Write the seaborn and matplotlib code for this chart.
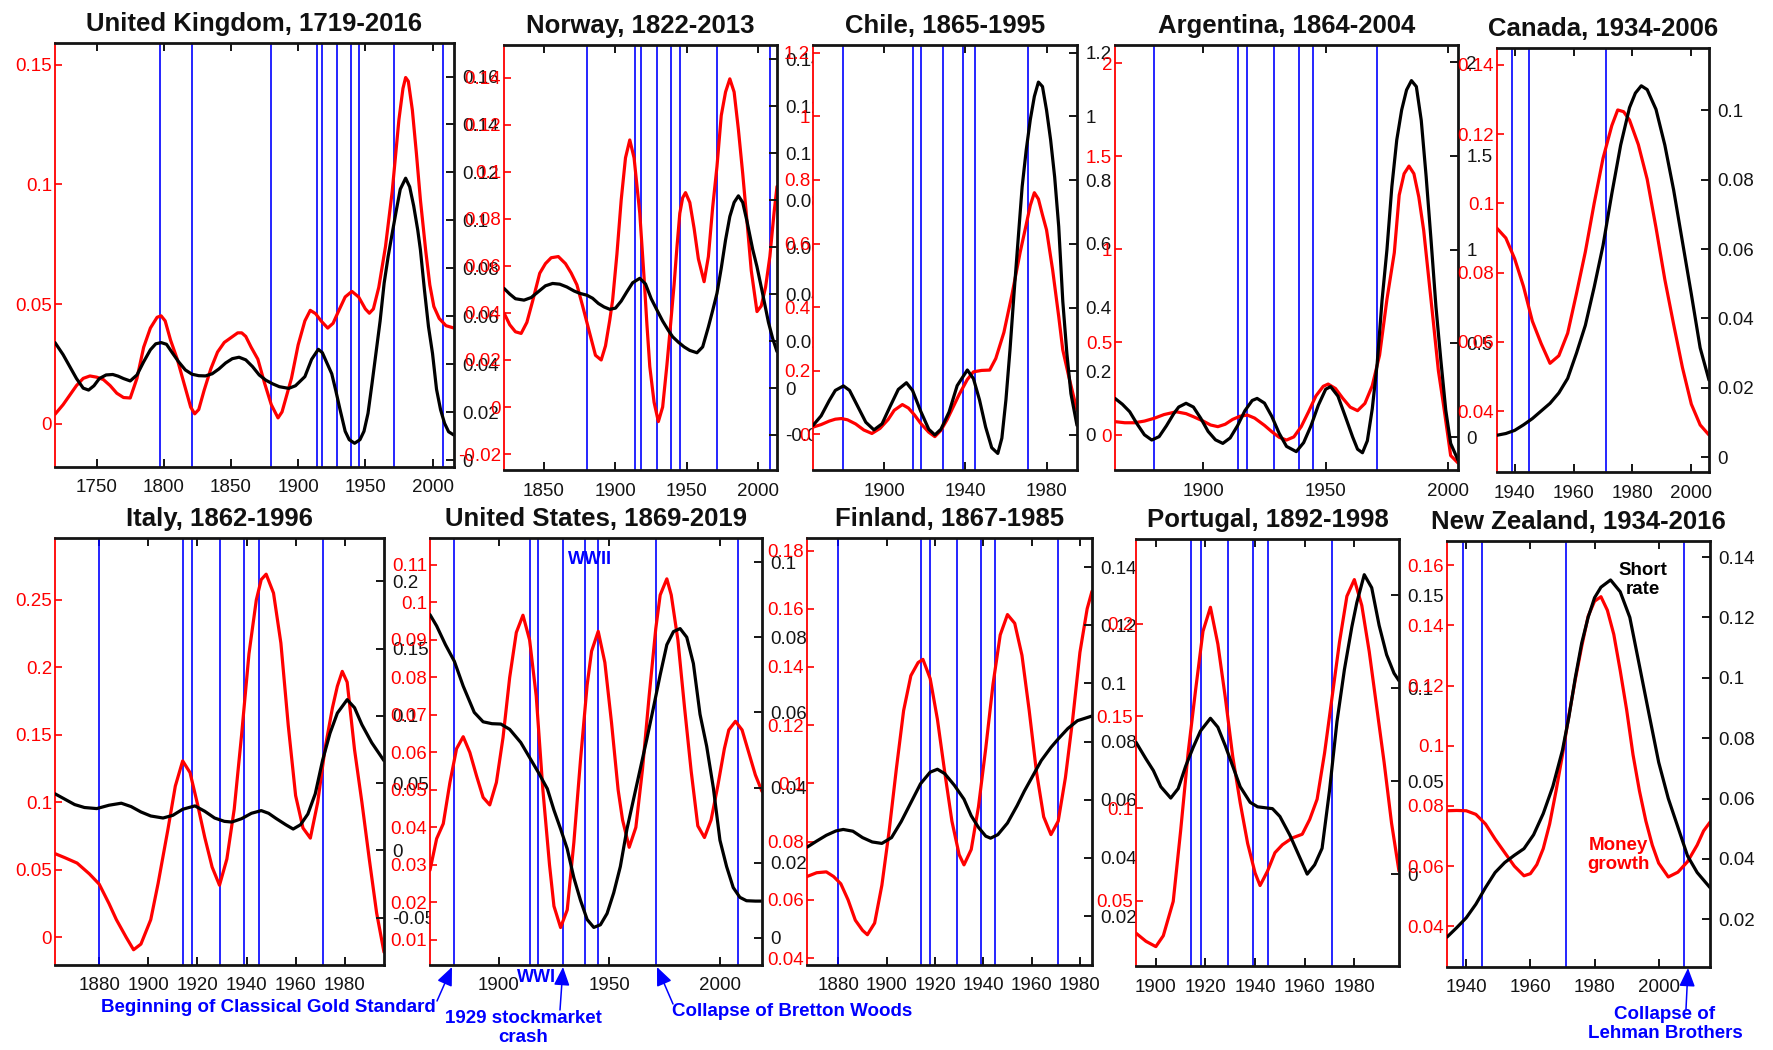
import matplotlib
matplotlib.use("Agg")
import matplotlib.pyplot as plt
from matplotlib.ticker import FixedLocator, FuncFormatter
import seaborn as sns

sns.set_theme(style="white")
plt.rcParams["font.family"] = ["Liberation Sans", "DejaVu Sans"]
plt.rcParams["axes.unicode_minus"] = False

# ---------------------------------------------------------------------------
# Low-frequency components, as (year, value) pairs: money growth (red, left
# axis) and short rate (black, right axis), by country.
# ---------------------------------------------------------------------------
uk_money = [(1719, .004), (1725, .008), (1730, .012), (1735, .016), (1740, .019),
            (1745, .020), (1750, .0195), (1755, .0185), (1760, .016), (1765, .0128),
            (1770, .011), (1775, .0108), (1780, .019), (1785, .032), (1790, .040),
            (1795, .0445), (1798, .0451), (1801, .043), (1805, .035), (1810, .027),
            (1815, .017), (1820, .007), (1823, .0042), (1826, .006), (1830, .014),
            (1835, .023), (1840, .030), (1845, .034), (1850, .036), (1855, .038),
            (1858, .038), (1861, .0365), (1865, .032), (1870, .027), (1875, .017),
            (1880, .008), (1885, .0025), (1888, .005), (1891, .011), (1895, .019),
            (1900, .033), (1905, .043), (1909, .0474), (1913, .046), (1917, .043),
            (1922, .040), (1926, .042), (1930, .047), (1935, .053), (1940, .0553),
            (1945, .053), (1950, .048), (1953, .0462), (1956, .048), (1960, .057),
            (1965, .074), (1970, .097), (1975, .127), (1978, .140), (1980, .1446),
            (1982, .143), (1985, .131), (1988, .113), (1991, .0935), (1995, .072),
            (1998, .058), (2001, .049), (2005, .044), (2010, .041), (2016, .040)]
uk_rate = [(1719, .049), (1725, .044), (1730, .039), (1735, .034), (1740, .030),
           (1744, .0292), (1748, .031), (1752, .034), (1757, .0355), (1762, .0357),
           (1766, .035), (1770, .034), (1775, .033), (1780, .0355), (1785, .041),
           (1790, .046), (1794, .0485), (1798, .049), (1802, .0483), (1806, .045),
           (1811, .041), (1816, .0376), (1821, .0358), (1826, .0352), (1831, .0351),
           (1836, .036), (1841, .038), (1846, .0405), (1851, .0423), (1856, .0429),
           (1861, .0418), (1866, .039), (1871, .0355), (1876, .0333), (1881, .0318),
           (1886, .0306), (1893, .0299), (1898, .031), (1905, .0348), (1910, .042),
           (1915, .0462), (1918, .0448), (1921, .041), (1925, .036), (1928, .029),
           (1931, .0215), (1935, .012), (1938, .0085), (1942, .007), (1946, .0085),
           (1949, .012), (1952, .0195), (1955, .032), (1958, .045), (1961, .058),
           (1964, .0738), (1967, .085), (1970, .0946), (1973, .104), (1976, .113),
           (1980, .1176), (1983, .114), (1986, .106), (1989, .096), (1991, .0877),
           (1994, .071), (1997, .0557), (2000, .0445), (2003, .0295), (2006, .021),
           (2009, .0153), (2012, .0118), (2016, .0104)]

norway_money = [(1822, .040), (1826, .035), (1830, .032), (1834, .0313), (1838, .036),
                (1842, .045), (1847, .0569), (1851, .061), (1855, .0635), (1860, .064),
                (1865, .061), (1869, .057), (1873, .052), (1877, .043), (1882, .0313),
                (1886, .022), (1890, .020), (1893, .026), (1896, .037), (1898, .0455),
                (1901, .065), (1904, .0881), (1907, .106), (1910, .1136), (1913, .106),
                (1917, .0824), (1920, .055), (1922, .035), (1924, .0172), (1927, .002),
                (1930, -.0062), (1933, .000), (1936, .018), (1938, .0313), (1941, .052),
                (1943, .068), (1945, .0824), (1947, .089), (1949, .0912), (1952, .087),
                (1955, .076), (1958, .063), (1962, .0533), (1965, .064), (1968, .085),
                (1971, .1023), (1974, .124), (1977, .134), (1980, .1396), (1983, .134),
                (1986, .118), (1989, .0994), (1992, .079), (1995, .058), (1999, .0406),
                (2002, .043), (2005, .051), (2008, .064), (2011, .083), (2013, .0938)]
norway_rate = [(1822, .0424), (1826, .040), (1830, .038), (1836, .0374), (1841, .0385),
               (1846, .041), (1851, .0435), (1856, .0445), (1861, .0442), (1866, .043),
               (1871, .0413), (1875, .0403), (1880, .0395), (1884, .0382), (1888, .036),
               (1892, .0345), (1896, .0335), (1900, .034), (1904, .037), (1908, .041),
               (1912, .0448), (1917, .0467), (1921, .0443), (1925, .038), (1929, .0332),
               (1933, .0285), (1937, .0245), (1940, .0218), (1944, .0195), (1948, .0175),
               (1952, .016), (1957, .015), (1961, .0175), (1965, .026), (1968, .033),
               (1971, .0403), (1974, .051), (1977, .063), (1980, .073), (1983, .079),
               (1986, .0818), (1989, .079), (1992, .071), (1996, .059), (1999, .0516),
               (2003, .040), (2007, .028), (2010, .021), (2013, .0155)]

chile_money = [(1865, .022), (1869, .030), (1873, .041), (1876, .047), (1879, .049),
               (1882, .045), (1886, .032), (1890, .013), (1894, .002), (1898, .018),
               (1902, .046), (1905, .075), (1909, .093), (1912, .082), (1915, .060),
               (1918, .034), (1922, .006), (1925, -.008), (1928, .012), (1931, .045),
               (1934, .085), (1937, .125), (1941, .172), (1944, .196), (1948, .2005),
               (1952, .2016), (1955, .238), (1959, .320), (1963, .440), (1967, .572),
               (1970, .660), (1972, .720), (1974, .760), (1976, .740), (1978, .690),
               (1980, .643), (1983, .517), (1986, .370), (1988, .265), (1991, .180),
               (1995, .075)]
chile_rate = [(1865, .030), (1869, .060), (1873, .108), (1876, .140), (1880, .154),
              (1883, .140), (1887, .090), (1891, .040), (1895, .016), (1899, .035),
              (1903, .090), (1907, .143), (1911, .164), (1914, .140), (1918, .075),
              (1922, .018), (1925, .000), (1928, .018), (1932, .072), (1936, .155),
              (1941, .204), (1944, .177), (1947, .110), (1950, .025), (1953, -.040),
              (1956, -.058), (1958, -.010), (1960, .110), (1962, .267), (1964, .445),
              (1966, .613), (1968, .780), (1970, .895), (1972, .990), (1974, 1.063),
              (1976, 1.108), (1978, 1.094), (1980, 1.020), (1982, .927), (1984, .810),
              (1986, .654), (1988, .420), (1990, .257), (1992, .130), (1995, .030)]

argentina_money = [(1864, .072), (1868, .066), (1872, .066), (1876, .075), (1880, .090),
                   (1884, .110), (1889, .125), (1893, .115), (1896, .0986), (1900, .075),
                   (1903, .054), (1906, .045), (1909, .058), (1912, .084), (1915, .101),
                   (1918, .1075), (1921, .091), (1925, .052), (1928, .018), (1931, -.012),
                   (1934, -.027), (1937, -.010), (1940, .045), (1943, .125), (1946, .210),
                   (1949, .262), (1951, .274), (1954, .250), (1957, .197), (1960, .150),
                   (1963, .131), (1966, .170), (1969, .265), (1972, .430), (1975, .730),
                   (1978, .980), (1980, 1.290), (1982, 1.405), (1984, 1.446), (1986, 1.405),
                   (1988, 1.280), (1990, 1.100), (1992, .850), (1994, .600), (1996, .345),
                   (1998, .170), (2001, -.110), (2004, -.150)]
argentina_rate = [(1864, .206), (1867, .175), (1870, .135), (1873, .070), (1876, .012),
                  (1879, -.016), (1882, .002), (1885, .060), (1888, .125), (1890, .160),
                  (1893, .180), (1896, .160), (1899, .100), (1902, .030), (1905, -.015),
                  (1908, -.034), (1911, -.005), (1914, .060), (1917, .140), (1920, .195),
                  (1922, .206), (1925, .181), (1928, .110), (1931, .020), (1934, -.050),
                  (1938, -.078), (1941, -.030), (1944, .060), (1947, .170), (1950, .255),
                  (1952, .269), (1955, .218), (1958, .110), (1961, .000), (1963, -.065),
                  (1965, -.084), (1967, -.020), (1969, .150), (1971, .390), (1973, .730),
                  (1975, 1.000), (1977, 1.336), (1979, 1.585), (1981, 1.745), (1983, 1.852),
                  (1985, 1.902), (1987, 1.870), (1989, 1.690), (1991, 1.390), (1993, 1.050),
                  (1995, .696), (1997, .410), (1999, .144), (2001, -.034), (2004, -.123)]

canada_money = [(1934, .0928), (1937, .0900), (1940, .084), (1943, .076), (1946, .066),
                (1949, .0595), (1952, .0538), (1955, .0560), (1958, .0625), (1961, .074),
                (1964, .086), (1967, .100), (1970, .113), (1973, .1225), (1975, .127),
                (1977, .1265), (1979, .1241), (1982, .117), (1985, .1070), (1988, .093),
                (1991, .078), (1994, .065), (1997, .0525), (2000, .042), (2003, .0360),
                (2006, .0331)]
canada_rate = [(1934, .0063), (1937, .0068), (1940, .0077), (1943, .0093), (1946, .0111),
               (1949, .0133), (1952, .0155), (1955, .0185), (1958, .0227), (1961, .030),
               (1964, .038), (1967, .049), (1970, .061), (1973, .076), (1976, .090),
               (1979, .1008), (1981, .105), (1983, .1071), (1985, .106), (1988, .1003),
               (1991, .090), (1994, .077), (1997, .062), (2000, .047), (2003, .0315),
               (2006, .0222)]

italy_money = [(1862, .062), (1866, .059), (1871, .055), (1876, .047), (1880, .0394),
               (1884, .025), (1887, .0131), (1891, .000), (1894, -.0092), (1897, -.005),
               (1901, .0131), (1904, .040), (1908, .080), (1911, .112), (1914, .1307),
               (1917, .122), (1920, .099), (1923, .074), (1926, .052), (1929, .0386),
               (1932, .058), (1935, .095), (1938, .150), (1941, .210), (1944, .250),
               (1946, .265), (1948, .269), (1951, .255), (1954, .218), (1957, .157),
               (1960, .105), (1963, .081), (1966, .0735), (1969, .100), (1972, .140),
               (1975, .170), (1977, .186), (1979, .197), (1981, .189), (1984, .139),
               (1987, .100), (1990, .058), (1993, .018), (1996, -.011)]
italy_rate = [(1862, .042), (1866, .038), (1870, .034), (1874, .0318), (1879, .031),
              (1884, .0335), (1889, .035), (1893, .0325), (1897, .0285), (1901, .0255),
              (1906, .024), (1910, .026), (1914, .0305), (1919, .033), (1923, .029),
              (1927, .024), (1931, .0215), (1934, .021), (1938, .0235), (1942, .0275),
              (1946, .0295), (1949, .0275), (1952, .0237), (1956, .019), (1959, .0158),
              (1962, .019), (1965, .027), (1968, .042), (1971, .067), (1974, .087),
              (1977, .102), (1981, .112), (1984, .106), (1987, .0934), (1991, .080),
              (1996, .0666)]

us_money = [(1869, .0286), (1872, .037), (1875, .041), (1878, .052), (1881, .061),
            (1884, .0642), (1887, .060), (1890, .0538), (1893, .048), (1896, .046),
            (1899, .052), (1902, .064), (1905, .080), (1908, .092), (1911, .0966),
            (1914, .090), (1917, .075), (1920, .050), (1923, .030), (1925, .019),
            (1928, .0133), (1931, .018), (1934, .036), (1937, .058), (1940, .078),
            (1942, .087), (1945, .0923), (1948, .084), (1951, .068), (1954, .050),
            (1956, .042), (1959, .0347), (1962, .040), (1965, .0555), (1968, .075),
            (1971, .093), (1973, .102), (1976, .1063), (1978, .102), (1981, .090),
            (1984, .072), (1987, .055), (1990, .0404), (1993, .0373), (1996, .042),
            (1999, .051), (2002, .061), (2004, .066), (2007, .0683), (2010, .066),
            (2013, .060), (2016, .054), (2019, .0496)]
us_rate = [(1869, .086), (1872, .083), (1876, .078), (1880, .0736), (1884, .067),
           (1889, .060), (1893, .0575), (1897, .057), (1901, .0569), (1905, .0555),
           (1910, .052), (1914, .048), (1918, .044), (1922, .0397), (1925, .034),
           (1928, .029), (1931, .0237), (1934, .016), (1937, .010), (1940, .0049),
           (1943, .0028), (1946, .0035), (1949, .0065), (1952, .012), (1955, .019),
           (1958, .029), (1961, .037), (1964, .045), (1967, .053), (1970, .0614),
           (1973, .070), (1976, .078), (1979, .0815), (1982, .0823), (1985, .080),
           (1988, .073), (1991, .0595), (1994, .051), (1997, .040), (2000, .026),
           (2003, .019), (2006, .0134), (2009, .0108), (2012, .0099), (2016, .0098),
           (2019, .0098)]

finland_money = [(1867, .068), (1871, .0693), (1875, .0696), (1878, .068), (1881, .0655),
                 (1884, .060), (1887, .053), (1890, .0495), (1892, .048), (1895, .052),
                 (1898, .065), (1901, .0836), (1904, .105), (1907, .125), (1910, .137),
                 (1913, .1415), (1915, .1426), (1918, .136), (1921, .122), (1924, .104),
                 (1927, .087), (1930, .0755), (1932, .072), (1935, .0773), (1938, .092),
                 (1941, .112), (1944, .134), (1947, .151), (1950, .158), (1953, .155),
                 (1956, .144), (1959, .125), (1962, .104), (1965, .0885), (1968, .0824),
                 (1971, .087), (1974, .102), (1977, .122), (1980, .145), (1983, .160),
                 (1985, .166)]
finland_rate = [(1867, .0437), (1871, .0458), (1875, .0478), (1879, .0493), (1882, .0498),
                (1886, .0492), (1890, .047), (1894, .0455), (1898, .045), (1902, .047),
                (1906, .0525), (1910, .059), (1914, .0655), (1918, .0695), (1921, .0705),
                (1924, .069), (1928, .065), (1932, .0602), (1935, .0545), (1938, .0505),
                (1941, .0475), (1943, .0468), (1946, .048), (1950, .052), (1954, .058),
                (1957, .063), (1960, .0675), (1964, .0735), (1968, .078), (1971, .0809),
                (1975, .0845), (1979, .0872), (1982, .088), (1985, .0888)]

portugal_money = [(1892, .0324), (1896, .028), (1900, .0251), (1903, .031), (1907, .0496),
                  (1910, .088), (1913, .130), (1916, .164), (1919, .196), (1922, .209),
                  (1925, .189), (1928, .160), (1931, .128), (1934, .103), (1937, .081),
                  (1940, .065), (1942, .0582), (1945, .066), (1948, .076), (1951, .0803),
                  (1955, .084), (1959, .086), (1962, .094), (1965, .105), (1968, .130),
                  (1971, .160), (1974, .190), (1977, .215), (1980, .224), (1983, .210),
                  (1986, .185), (1989, .155), (1992, .125), (1995, .092), (1998, .066)]
portugal_rate = [(1892, .0709), (1896, .062), (1899, .0557), (1902, .047), (1906, .0409),
                 (1909, .046), (1912, .058), (1915, .068), (1918, .077), (1922, .0838),
                 (1925, .079), (1928, .069), (1931, .058), (1934, .047), (1938, .0386),
                 (1941, .0362), (1944, .0357), (1947, .0352), (1950, .031), (1954, .021),
                 (1957, .012), (1959, .006), (1961, .000), (1964, .005), (1967, .0139),
                 (1970, .045), (1973, .082), (1976, .110), (1979, .133), (1981, .146),
                 (1984, .161), (1987, .154), (1990, .1337), (1993, .118), (1996, .108),
                 (1998, .104)]

nz_money = [(1934, .0784), (1937, .0785), (1940, .0784), (1943, .0772), (1946, .074),
            (1949, .069), (1952, .0645), (1955, .060), (1958, .0568), (1960, .0575),
            (1962, .0605), (1964, .0658), (1966, .074), (1968, .085), (1970, .097),
            (1972, .110), (1974, .122), (1976, .133), (1978, .143), (1980, .148),
            (1982, .1495), (1984, .145), (1986, .137), (1988, .125), (1990, .112),
            (1992, .097), (1994, .085), (1996, .075), (1998, .067), (2000, .061),
            (2003, .0564), (2006, .058), (2009, .0615), (2012, .067), (2014, .0717),
            (2016, .0746)]
nz_rate = [(1934, .0141), (1937, .0172), (1940, .0205), (1943, .025), (1946, .0305),
           (1949, .0355), (1952, .0388), (1955, .0412), (1958, .0434), (1961, .048),
           (1964, .055), (1967, .064), (1970, .076), (1972, .087), (1974, .100),
           (1976, .1115), (1978, .120), (1980, .1265), (1982, .130), (1985, .1324),
           (1988, .1285), (1991, .120), (1994, .104), (1997, .0879), (2000, .072),
           (2003, .060), (2006, .0505), (2009, .041), (2012, .0355), (2016, .0305)]

# Monetary-regime events marked by vertical lines
events = [1880, 1914, 1918, 1929, 1939, 1945, 1971, 2008]
uk_events = [1797, 1821] + events

# Tick values per panel
uk_xticks = [1750, 1800, 1850, 1900, 1950, 2000]
uk_red_ticks = [0, 0.05, 0.1, 0.15]
uk_black_ticks = [0, 0.02, 0.04, 0.06, 0.08, 0.1, 0.12, 0.14, 0.16]
norway_xticks = [1850, 1900, 1950, 2000]
norway_red_ticks = [-0.02, 0, 0.02, 0.04, 0.06, 0.08, 0.1, 0.12, 0.14]
norway_black_ticks = [-0.02, 0, 0.02, 0.04, 0.06, 0.08, 0.1, 0.12, 0.14]
chile_xticks = [1900, 1940, 1980]
chile_red_ticks = [0, 0.2, 0.4, 0.6, 0.8, 1, 1.2]
chile_black_ticks = [0, 0.2, 0.4, 0.6, 0.8, 1, 1.2]
argentina_xticks = [1900, 1950, 2000]
argentina_red_ticks = [0, 0.5, 1, 1.5, 2]
argentina_black_ticks = [0, 0.5, 1, 1.5, 2]
canada_xticks = [1940, 1960, 1980, 2000]
canada_red_ticks = [0.04, 0.06, 0.08, 0.1, 0.12, 0.14]
canada_black_ticks = [0, 0.02, 0.04, 0.06, 0.08, 0.1]
italy_xticks = [1880, 1900, 1920, 1940, 1960, 1980]
italy_red_ticks = [0, 0.05, 0.1, 0.15, 0.2, 0.25]
italy_black_ticks = [-0.05, 0, 0.05, 0.1, 0.15, 0.2]
us_xticks = [1900, 1950, 2000]
us_red_ticks = [0.01, 0.02, 0.03, 0.04, 0.05, 0.06, 0.07, 0.08, 0.09, 0.1, 0.11]
us_black_ticks = [0, 0.02, 0.04, 0.06, 0.08, 0.1]
finland_xticks = [1880, 1900, 1920, 1940, 1960, 1980]
finland_red_ticks = [0.04, 0.06, 0.08, 0.1, 0.12, 0.14, 0.16, 0.18]
finland_black_ticks = [0.02, 0.04, 0.06, 0.08, 0.1, 0.12, 0.14]
portugal_xticks = [1900, 1920, 1940, 1960, 1980]
portugal_red_ticks = [0.05, 0.1, 0.15, 0.2]
portugal_black_ticks = [0, 0.05, 0.1, 0.15]
nz_xticks = [1940, 1960, 1980, 2000]
nz_red_ticks = [0.04, 0.06, 0.08, 0.1, 0.12, 0.14, 0.16]
nz_black_ticks = [0.02, 0.04, 0.06, 0.08, 0.1, 0.12, 0.14]

# ---------------------------------------------------------------------------
W, H = 1773, 1050
RED = "#ff0000"
BLUE = "#0000ff"
INK = "#141414"
TICK_FS = 13.5
TITLE_GAP = 12  # pixels between the axes top and the title box

fig = plt.figure(figsize=(W / 100, H / 100), dpi=100)
fig.patch.set_facecolor("white")


def fmt(v, pos=None):
    s = f"{v:.4f}".rstrip("0").rstrip(".")
    return "0" if s in ("-0", "") else s


def panel(box, title, span, money, rate, xticks, red_lim, red_ticks,
          black_lim, black_ticks, marks):
    x0, x1, y0, y1 = box
    ax = fig.add_axes([x0 / W, 1 - y1 / H, (x1 - x0) / W, (y1 - y0) / H])
    ax.set_facecolor("white")
    for ev in marks:
        if span[0] <= ev <= span[1]:
            ax.axvline(ev, color=BLUE, lw=1.2, zorder=1)
    sns.lineplot(x=[p[0] for p in money], y=[p[1] for p in money], ax=ax,
                 color=RED, lw=2.3, zorder=2)
    ax.set_xlim(*span)
    ax.set_ylim(*red_lim)
    ax.xaxis.set_major_locator(FixedLocator(xticks))
    ax.yaxis.set_major_locator(FixedLocator(red_ticks))
    ax.yaxis.set_major_formatter(FuncFormatter(fmt))
    ax.set_xlabel("")
    ax.set_ylabel("")
    ax.tick_params(axis="x", direction="in", length=6, width=1.4, top=True,
                   bottom=True, labelsize=TICK_FS, pad=9, colors=INK)
    ax.tick_params(axis="y", direction="in", length=5, width=1.2, left=True,
                   right=False, labelsize=TICK_FS, pad=2, colors=RED)
    ax.spines["left"].set_color(RED)
    ax.spines["left"].set_linewidth(1.3)
    for s in ("top", "bottom"):
        ax.spines[s].set_color(INK)
        ax.spines[s].set_linewidth(2.0)
    ax.spines["right"].set_visible(False)
    ax.set_title(title, fontsize=18.5, fontweight="bold", pad=0, color="#111111",
                 y=1.0 + TITLE_GAP / (y1 - y0))

    ax2 = ax.twinx()
    sns.lineplot(x=[p[0] for p in rate], y=[p[1] for p in rate], ax=ax2,
                 color="black", lw=2.3)
    ax2.set_xlim(*span)
    ax2.set_ylim(*black_lim)
    ax2.yaxis.set_major_locator(FixedLocator(black_ticks))
    ax2.yaxis.set_major_formatter(FuncFormatter(fmt))
    ax2.set_xlabel("")
    ax2.set_ylabel("")
    ax2.tick_params(axis="y", direction="in", length=6, width=1.4, right=True,
                    left=False, labelsize=TICK_FS, pad=6, colors=INK)
    ax2.tick_params(axis="x", top=False, bottom=False, labeltop=False,
                    labelbottom=False)
    for s in ("left", "top", "bottom"):
        ax2.spines[s].set_visible(False)
    ax2.spines["right"].set_color(INK)
    ax2.spines["right"].set_linewidth(2.0)
    return ax, ax2


panel((55, 454, 43, 467), "United Kingdom, 1719-2016", (1719, 2016), uk_money, uk_rate,
      uk_xticks, (-0.018, 0.159), uk_red_ticks, (-0.0029, 0.174), uk_black_ticks, uk_events)
panel((504, 777, 45, 470), "Norway, 1822-2013", (1822, 2013), norway_money, norway_rate,
      norway_xticks, (-0.0268, 0.154), norway_red_ticks, (-0.0349, 0.146),
      norway_black_ticks, events)
panel((813, 1077, 45, 470), "Chile, 1865-1995", (1865, 1995), chile_money, chile_rate,
      chile_xticks, (-0.113, 1.225), chile_red_ticks, (-0.11, 1.2245),
      chile_black_ticks, events)
panel((1115, 1458, 45, 470), "Argentina, 1864-2004", (1864, 2004), argentina_money,
      argentina_rate, argentina_xticks, (-0.188, 2.097), argentina_red_ticks,
      (-0.176, 2.092), argentina_black_ticks, events)
panel((1497, 1709, 48, 472), "Canada, 1934-2006", (1934, 2006), canada_money, canada_rate,
      canada_xticks, (0.0224, 0.1449), canada_red_ticks, (-0.0043, 0.118),
      canada_black_ticks, events)

panel((55, 384, 538, 965), "Italy, 1862-1996", (1862, 1996), italy_money, italy_rate,
      italy_xticks, (-0.0205, 0.2958), italy_red_ticks, (-0.0853, 0.2322),
      italy_black_ticks, events)
panel((430, 762, 538, 965), "United States, 1869-2019", (1869, 2019), us_money, us_rate,
      us_xticks, (0.0033, 0.1172), us_red_ticks, (-0.0072, 0.1064), us_black_ticks, events)
panel((807, 1092, 538, 965), "Finland, 1867-1985", (1867, 1985), finland_money,
      finland_rate, finland_xticks, (0.0376, 0.1843), finland_red_ticks, (0.0032, 0.150),
      finland_black_ticks, events)
panel((1136, 1399, 539, 966), "Portugal, 1892-1998", (1892, 1998), portugal_money,
      portugal_rate, portugal_xticks, (0.0146, 0.246), portugal_red_ticks,
      (-0.0494, 0.1802), portugal_black_ticks, events)
panel((1447, 1710, 541, 967), "New Zealand, 1934-2016", (1934, 2016), nz_money, nz_rate,
      nz_xticks, (0.0265, 0.168), nz_red_ticks, (0.0042, 0.1453), nz_black_ticks, events)

# Annotation layer in pixel coordinates
ov = fig.add_axes([0, 0, 1, 1])
ov.set_xlim(0, W)
ov.set_ylim(H, 0)
ov.axis("off")
ov.patch.set_visible(False)

note = dict(color=BLUE, fontsize=13.5, fontweight="bold", ha="center", va="center",
            linespacing=1.15)
arrow = dict(arrowstyle="-|>,head_length=0.7,head_width=0.3", color=BLUE, lw=1.1,
             shrinkA=0, shrinkB=0, mutation_scale=16)

ov.text(268, 1008, "Beginning of Classical Gold Standard", **note)
ov.annotate("", xy=(452, 967), xytext=(437, 1001), arrowprops=arrow)
ov.text(523, 1028, "1929 stockmarket\ncrash", **note)
ov.annotate("", xy=(563, 967), xytext=(560, 1010), arrowprops=arrow)
ov.text(792, 1012, "Collapse of Bretton Woods", **note)
ov.annotate("", xy=(657, 967), xytext=(673, 1004), arrowprops=arrow)
ov.text(590, 559, "WWII", **{**note, "fontsize": 13})
ov.text(536, 977, "WWI", **{**note, "fontsize": 13})
ov.text(1665, 1024, "Collapse of\nLehman Brothers", **note)
ov.annotate("", xy=(1688, 968), xytext=(1686, 1009), arrowprops=arrow)
ov.text(1643, 580, "Short\nrate", **{**note, "color": "black"})
ov.text(1618, 855, "Money\ngrowth", **{**note, "color": RED})

fig.savefig("out.png", dpi=100, facecolor="white")
